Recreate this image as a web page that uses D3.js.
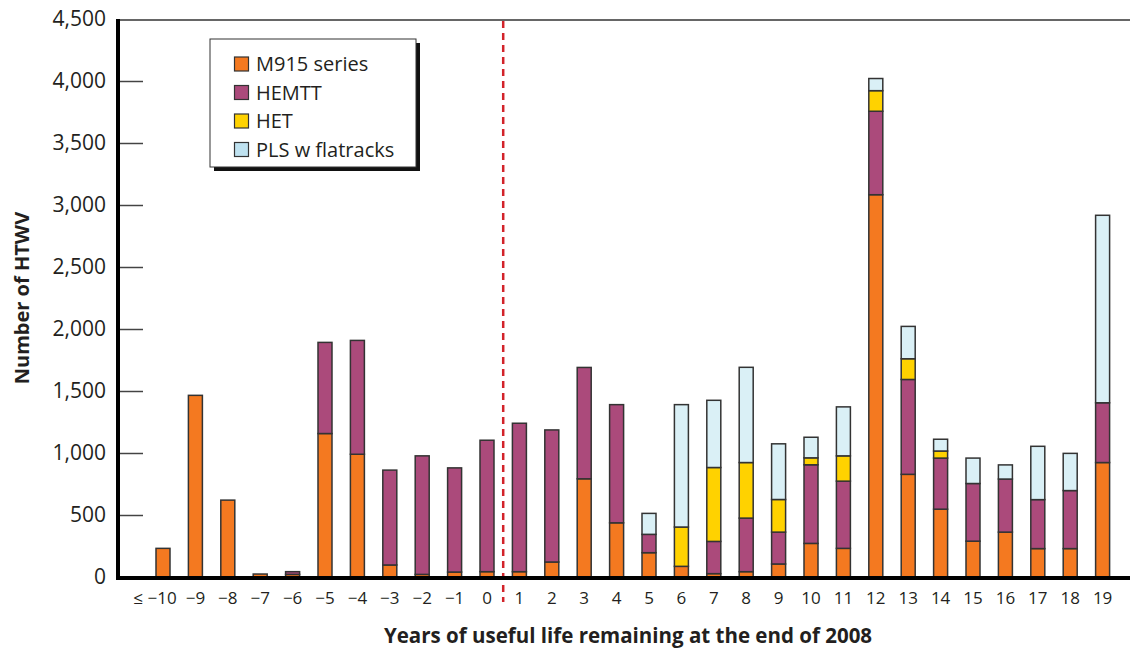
<!DOCTYPE html>
<html><head><meta charset="utf-8">
<script src="https://cdn.jsdelivr.net/npm/d3@7"></script>
<style>
body{margin:0;background:#fff;}
text{font-family:"Open Sans","Noto Sans",sans-serif;fill:#231f20;}
</style></head>
<body><svg id="c" width="1130" height="650"></svg>
<script>
const categories = ["≤ −10","−9","−8","−7","−6","−5","−4","−3","−2","−1","0","1","2","3","4","5","6","7","8","9","10","11","12","13","14","15","16","17","18","19"];
const seriesNames = ["M915 series","HEMTT","HET","PLS w flatracks"];
const m915  = [231,1465,620,24,21,1157,990,97,21,40,43,43,121,792,437,196,86,27,43,105,271,231,3083,828,547,289,362,229,229,923];
const hemtt = [0,0,0,0,22,735,918,765,956,840,1060,1197,1065,898,953,148,0,260,432,257,634,542,673,765,412,465,428,395,468,482];
const het   = [0,0,0,0,0,0,0,0,0,0,0,0,0,0,0,0,317,596,448,263,56,204,166,167,57,0,0,0,0,0];
const pls   = [0,0,0,0,0,0,0,0,0,0,0,0,0,0,0,169,987,542,768,449,166,395,98,261,95,205,114,430,300,1512];
const yTicks = [0,500,1000,1500,2000,2500,3000,3500,4000,4500];
const colors = ["#f47920","#ab4a7b","#ffd200","#daf0f6"];
const legendColors = ["#f47920","#ab4a7b","#ffd200","#bfe2f0"];

const svg = d3.select("#c");
const x = d3.scaleBand().domain(categories).range([146.8,1118.8]).paddingInner(0.568).paddingOuter(0.284);
const y = d3.scaleLinear().domain([0,4500]).range([577,19]);

const rows = categories.map((c,i)=>({cat:c, "M915 series":m915[i], "HEMTT":hemtt[i], "HET":het[i], "PLS w flatracks":pls[i]}));
const stack = d3.stack().keys(seriesNames)(rows);

// top frame line
svg.append("line").attr("x1",117).attr("x2",1130).attr("y1",20).attr("y2",20).attr("stroke","#333").attr("stroke-width",1.5);

// y ticks (inside)
const yAxis = d3.axisRight(y).tickValues(yTicks.slice(1,-1)).tickSize(25).tickFormat("");
const yg = svg.append("g").attr("transform","translate(118,0)").call(yAxis);
yg.select(".domain").remove();
yg.selectAll(".tick line").attr("stroke","#444").attr("stroke-width",1.5);

// y labels
const yl = d3.axisLeft(y).tickValues(yTicks).tickSize(0).tickPadding(0).tickFormat(d3.format(","));
const ylg = svg.append("g").attr("transform","translate(106,0)").call(yl);
ylg.select(".domain").remove();
ylg.selectAll("text").attr("font-size",21).attr("font-family","Open Sans, Noto Sans, sans-serif").attr("fill","#231f20");

// bars
const g = svg.append("g");
stack.forEach((s,si)=>{
  g.selectAll(null).data(s.filter(d=>d[1]-d[0]>0)).enter().append("rect")
   .attr("x",d=>x(d.data.cat)).attr("width",x.bandwidth())
   .attr("y",d=>y(d[1])).attr("height",d=>y(d[0])-y(d[1]))
   .attr("fill",colors[si]).attr("stroke","#333").attr("stroke-width",1.5);
});

// dashed red line between 0 and 1
const xr = (x("0")+x.bandwidth()/2 + x("1")+x.bandwidth()/2)/2;
svg.append("line").attr("x1",xr).attr("x2",xr).attr("y1",21).attr("y2",602)
  .attr("stroke","#d2232a").attr("stroke-width",2.5).attr("stroke-dasharray","7,5");

// axes lines
svg.append("line").attr("x1",117).attr("x2",1130).attr("y1",578).attr("y2",578).attr("stroke","#000").attr("stroke-width",4);
svg.append("line").attr("x1",118).attr("x2",118).attr("y1",19).attr("y2",580).attr("stroke","#000").attr("stroke-width",4);

// x labels
const xa = d3.axisBottom(x).tickSize(0).tickPadding(0);
const xg = svg.append("g").attr("transform","translate(0,598)").call(xa);
xg.select(".domain").remove();
xg.selectAll("text").attr("font-size",17).attr("font-family","Open Sans, Noto Sans, sans-serif").attr("fill","#231f20").attr("dy","0.35em");
xg.selectAll(".tick").filter(d=>d===categories[0]).select("text").attr("dx",-8);

// axis titles
svg.append("text").attr("x",628).attr("y",643).attr("text-anchor","middle").attr("font-size",20.5).attr("font-weight","bold").text("Years of useful life remaining at the end of 2008");
svg.append("text").attr("transform","translate(29,298) rotate(-90)").attr("text-anchor","middle").attr("font-size",20).attr("font-weight","bold").text("Number of HTWV");

// legend
const lg = svg.append("g");
lg.append("rect").attr("x",214).attr("y",43).attr("width",206).attr("height",128).attr("fill","#111");
lg.append("rect").attr("x",210).attr("y",39).attr("width",206).attr("height",128).attr("fill","#fff").attr("stroke","#333").attr("stroke-width",1);
seriesNames.forEach((n,i)=>{
  const cy = 64 + i*28.5;
  lg.append("rect").attr("x",234.5).attr("y",cy-7).attr("width",14).attr("height",14).attr("fill",legendColors[i]).attr("stroke","#333").attr("stroke-width",1.2);
  lg.append("text").attr("x",256).attr("y",cy).attr("dy","0.36em").attr("font-size",20).text(n);
});
</script></body></html>
